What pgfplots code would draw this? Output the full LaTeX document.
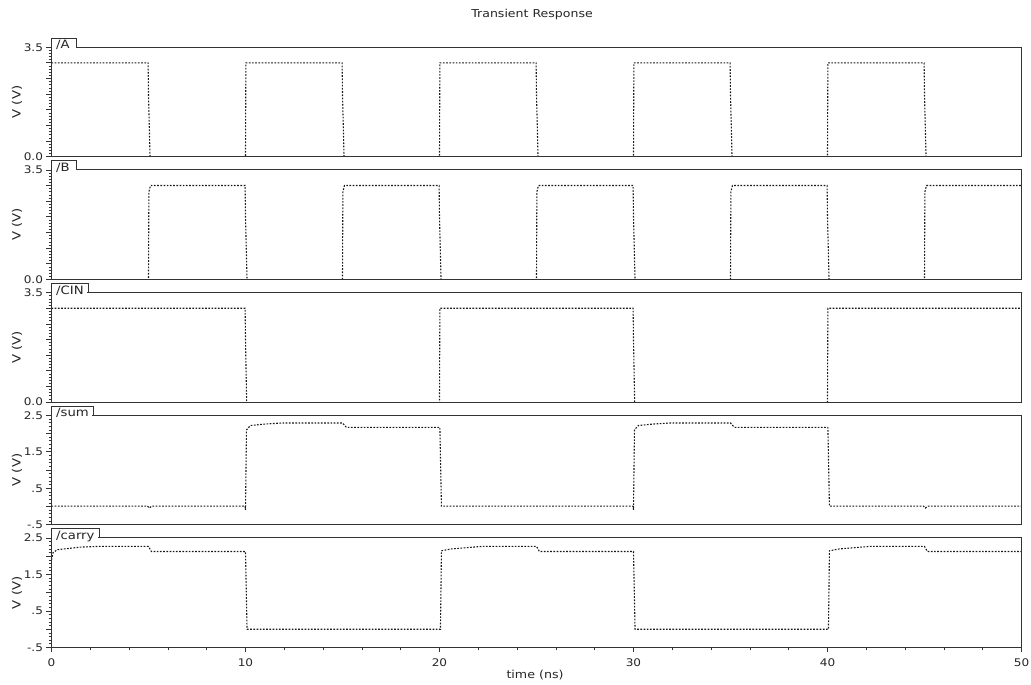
\documentclass[border=0pt]{standalone}
\usepackage{fontspec}
\setmainfont[FakeStretch=1.15]{DejaVu Sans}
\usepackage{pgfplots}
\pgfplotsset{compat=1.18}
\pgfplotsset{
  wave/.style={
    scale only axis, width=970pt, height=109.5pt,
    xmin=0, xmax=50, anchor=south west, axis on top=true,
    axis line style={black!80, line width=1pt},
    tick style={black!80, line width=0.7pt},
    tick align=outside, major tick length=5pt, minor tick length=3pt,
    xtick pos=left, ytick pos=left,
    minor y tick num=4,
    tick label style={font=\fontsize{10.5}{12}\selectfont, text=black!85},
    ylabel={V (V)},
    ylabel style={at={(axis description cs:-0.0356,0.5)}, anchor=center,
      font=\fontsize{11.5}{13}\selectfont, text=black!85},
    xtick=\empty,
  },
  hv/.style={ymin=0, ymax=3.5, ytick={0,0.5,1,1.5,2,2.5,3,3.5},
    yticklabels={0.0,,,,,,,3.5}},
  lv/.style={ymin=-0.5, ymax=2.5, ytick={-0.5,0,0.5,1,1.5,2,2.5},
    yticklabels={{-.5},,{.5},,{1.5},,{2.5}}},
  sig/.style={black!90, line width=1.1pt, dash pattern=on 1.7pt off 1.5pt},
}
\tikzset{tabline/.style={black!80, line width=1pt}}
\newcommand{\wtab}[3]{%
  \fill[white] ([xshift=0.6pt,yshift=-0.8pt]#1.north west) rectangle ++(#2-1.2pt,9.5pt);
  \draw[tabline] (#1.north west) -- ++(0,9pt) -- ++(#2,0) -- ++(0,-9pt);
  \node[anchor=base west, inner sep=0pt, font=\fontsize{11.5}{13}\selectfont, text=black!85]
    at ([xshift=4.5pt,yshift=-1.5pt]#1.north west) {#3};
}
\begin{document}
\begin{tikzpicture}
\useasboundingbox (0,0) rectangle (1031pt,685pt);

% A
\begin{axis}[wave, hv, name=axA, at={(51.5pt,528.3pt)},
  title={Transient Response},
  title style={at={(axis description cs:0.4954,1.2466)}, anchor=center,
    font=\fontsize{10.9}{13}\selectfont, text=black!85}]
\addplot[sig] coordinates {(0,3.0)(4.98,3.0)(5.0,2.0)(5.08,-0.02)(10,-0.02)(10.02,3.0)
 (14.98,3.0)(15.0,2.0)(15.08,-0.02)(20,-0.02)(20.02,3.0)(24.98,3.0)(25.0,2.0)(25.08,-0.02)
 (30,-0.02)(30.02,3.0)(34.98,3.0)(35.0,2.0)(35.08,-0.02)(40,-0.02)(40.02,3.0)(44.98,3.0)
 (45.0,2.0)(45.08,-0.02)(50,-0.02)};
\end{axis}
\wtab{axA}{25pt}{/A}

% B
\begin{axis}[wave, hv, name=axB, at={(51.5pt,405.6pt)}]
\addplot[sig] coordinates {(0,-0.02)(5.0,-0.02)(5.02,2.8)(5.1,3.0)(9.98,3.0)(10.0,2.0)(10.08,-0.02)
 (15.0,-0.02)(15.02,2.8)(15.1,3.0)(19.98,3.0)(20.0,2.0)(20.08,-0.02)
 (25.0,-0.02)(25.02,2.8)(25.1,3.0)(29.98,3.0)(30.0,2.0)(30.08,-0.02)
 (35.0,-0.02)(35.02,2.8)(35.1,3.0)(39.98,3.0)(40.0,2.0)(40.08,-0.02)
 (45.0,-0.02)(45.02,2.8)(45.1,3.0)(50,3.0)};
\end{axis}
\wtab{axB}{25pt}{/B}

% CIN
\begin{axis}[wave, hv, name=axC, at={(51.5pt,282.9pt)}]
\addplot[sig] coordinates {(0,3.0)(9.98,3.0)(10.0,2.0)(10.06,-0.02)(20.0,-0.02)(20.02,3.0)
 (29.98,3.0)(30.0,2.0)(30.06,-0.02)(40.0,-0.02)(40.02,3.0)(50,3.0)};
\end{axis}
\wtab{axC}{36.5pt}{/CIN}

% sum
\begin{axis}[wave, lv, name=axS, at={(51.5pt,160.2pt)}]
\addplot[sig] coordinates {(0,0.01)(4.95,0.01)(5.05,-0.04)(5.15,0.01)(9.98,0.01)
 (10.0,-0.09)(10.05,2.10)(10.25,2.22)(11.0,2.26)(11.9,2.29)(15.0,2.29)(15.2,2.17)
 (20.02,2.17)(20.1,0.01)(29.98,0.01)(30.0,-0.09)(30.05,2.10)(30.25,2.22)(31.0,2.26)
 (31.9,2.29)(35.0,2.29)(35.2,2.17)(40.02,2.17)(40.1,0.01)(44.95,0.01)(45.05,-0.04)
 (45.15,0.01)(50,0.01)};
\end{axis}
\wtab{axS}{41.5pt}{/sum}

% carry
\begin{axis}[wave, lv, name=axK, at={(51.5pt,37.5pt)},
  xtick={0,10,20,30,40,50}, xticklabels={0,10,20,30,40,50}, minor x tick num=4,
  xticklabel style={yshift=-3pt},
  xlabel={time (ns)},
  xlabel style={at={(axis description cs:0.4985,-0.251)}, anchor=center,
    font=\fontsize{11}{13}\selectfont, text=black!85}]
\addplot[sig] coordinates {(0,1.9)(0.08,2.10)(0.3,2.18)(1.5,2.25)(2.5,2.27)(5.0,2.27)
 (5.15,2.13)(10.0,2.13)(10.08,0.0)(20.05,0.0)(20.1,2.15)(20.6,2.20)(22.2,2.27)
 (25.0,2.27)(25.15,2.13)(30.0,2.13)(30.08,0.0)(40.05,0.0)(40.1,2.15)(40.6,2.20)
 (42.2,2.27)(45.0,2.27)(45.15,2.13)(50,2.13)};
\end{axis}
\wtab{axK}{47.5pt}{/carry}
\end{tikzpicture}
\end{document}
